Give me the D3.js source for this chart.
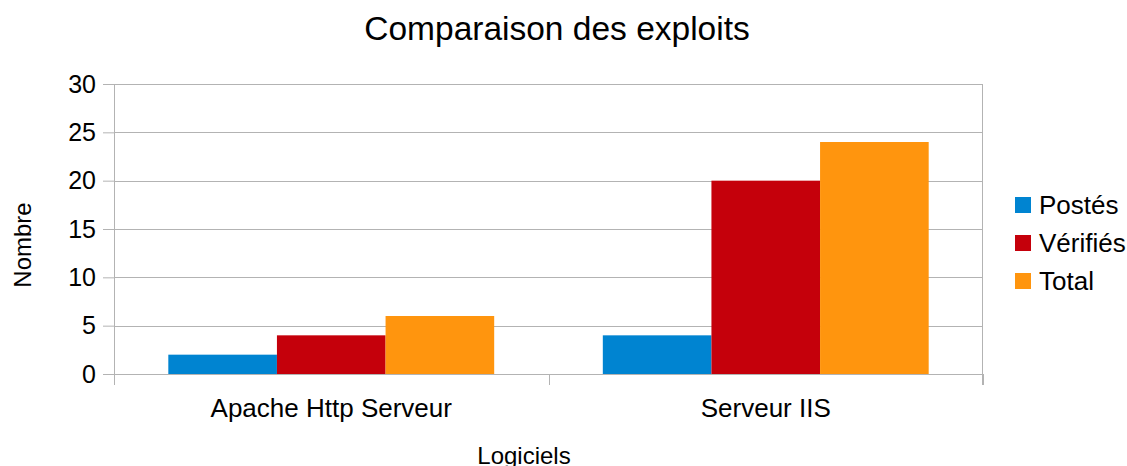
<!DOCTYPE html>
<html>
<head>
<meta charset="utf-8">
<script src="https://cdnjs.cloudflare.com/ajax/libs/d3/7.8.5/d3.min.js"></script>
<style>
  body { margin: 0; background: #fff; }
  text { font-family: "Liberation Sans", Arial, sans-serif; fill: #000; }
</style>
</head>
<body>
<svg id="chart" width="1127" height="466"></svg>
<script>
// data
var categories = ["Apache Http Serveur", "Serveur IIS"];
var series = ["Postés", "Vérifiés", "Total"];
var postes = [2, 4];
var verifies = [4, 20];
var totals = [6, 24];
var yTicks = [0, 5, 10, 15, 20, 25, 30];

var colors = ["#0084d1", "#c5000b", "#ff950e"];

var svg = d3.select("#chart"),
    width = +svg.attr("width"),
    height = +svg.attr("height");

var margin = {top: 84, right: 144, bottom: 92, left: 114};
var plotW = width - margin.left - margin.right,
    plotH = height - margin.top - margin.bottom;

var rows = categories.map(function(c, i) {
  return {cat: c, vals: [postes[i], verifies[i], totals[i]]};
});

var x0 = d3.scaleBand()
  .domain(categories)
  .range([0, plotW])
  .paddingInner(0)
  .paddingOuter(0);

var x1 = d3.scaleBand()
  .domain(series)
  .range([x0.bandwidth() * 0.125, x0.bandwidth() * 0.875]);

var y = d3.scaleLinear()
  .domain([0, 30])
  .range([plotH, 0]);

var g = svg.append("g")
  .attr("transform", "translate(" + margin.left + "," + margin.top + ")");

// gridlines
g.selectAll(".grid")
  .data(yTicks)
  .enter().append("line")
    .attr("class", "grid")
    .attr("x1", 0)
    .attr("x2", plotW)
    .attr("y1", function(d) { return Math.round(y(d)) + 0.5; })
    .attr("y2", function(d) { return Math.round(y(d)) + 0.5; })
    .attr("stroke", "#b3b3b3")
    .attr("stroke-width", 1);

// bars
var grp = g.selectAll(".cat")
  .data(rows)
  .enter().append("g")
    .attr("class", "cat")
    .attr("transform", function(d) { return "translate(" + x0(d.cat) + ",0)"; });

grp.selectAll("rect")
  .data(function(d) { return d.vals.map(function(v, i) { return {s: series[i], v: v, i: i}; }); })
  .enter().append("rect")
    .attr("x", function(d) { return x1(d.s); })
    .attr("width", x1.bandwidth())
    .attr("y", function(d) { return y(d.v); })
    .attr("height", function(d) { return plotH - y(d.v); })
    .attr("fill", function(d) { return colors[d.i]; });

// y axis
var yAxis = g.append("g")
  .call(d3.axisLeft(y).tickValues(yTicks).tickSize(11).tickPadding(7));
yAxis.select(".domain").remove();
yAxis.selectAll(".tick line").attr("stroke", "#b3b3b3").attr("x2", -11);
yAxis.selectAll(".tick text")
  .attr("font-size", "25px")
  .attr("font-family", "Liberation Sans, Arial, sans-serif")
  .attr("fill", "#000");

g.append("line")
  .attr("x1", 0.5).attr("x2", 0.5)
  .attr("y1", 0).attr("y2", plotH + 11)
  .attr("stroke", "#b3b3b3");
g.append("line")
  .attr("x1", plotW - 0.5).attr("x2", plotW - 0.5)
  .attr("y1", 0).attr("y2", plotH + 11)
  .attr("stroke", "#b3b3b3");

// x axis ticks at category boundaries
var bounds = categories.map(function(c) { return x0(c); }).concat([plotW]);
g.selectAll(".xtick")
  .data(bounds)
  .enter().append("line")
    .attr("x1", function(d) { return Math.round(d) + 0.5; })
    .attr("x2", function(d) { return Math.round(d) + 0.5; })
    .attr("y1", plotH)
    .attr("y2", plotH + 11)
    .attr("stroke", "#b3b3b3");

g.selectAll(".xlabel")
  .data(categories)
  .enter().append("text")
    .attr("x", function(d) { return x0(d) + x0.bandwidth() / 2; })
    .attr("y", plotH + 43)
    .attr("text-anchor", "middle")
    .attr("font-size", "26px")
    .text(function(d) { return d; });

// titles
svg.append("text")
  .attr("x", 557)
  .attr("y", 40)
  .attr("text-anchor", "middle")
  .attr("font-size", "33.5px")
  .text("Comparaison des exploits");

svg.append("text")
  .attr("x", 524)
  .attr("y", 464)
  .attr("text-anchor", "middle")
  .attr("font-size", "24px")
  .text("Logiciels");

svg.append("text")
  .attr("transform", "translate(31,245) rotate(-90)")
  .attr("text-anchor", "middle")
  .attr("font-size", "24px")
  .text("Nombre");

// legend
var legend = svg.selectAll(".legend")
  .data(series)
  .enter().append("g")
    .attr("class", "legend")
    .attr("transform", function(d, i) { return "translate(1015," + (205 + i * 38) + ")"; });

legend.append("rect")
  .attr("x", 0)
  .attr("y", -8)
  .attr("width", 16)
  .attr("height", 16)
  .attr("fill", function(d, i) { return colors[i]; });

legend.append("text")
  .attr("x", 24)
  .attr("y", 9)
  .attr("font-size", "26px")
  .text(function(d) { return d; });
</script>
</body>
</html>
